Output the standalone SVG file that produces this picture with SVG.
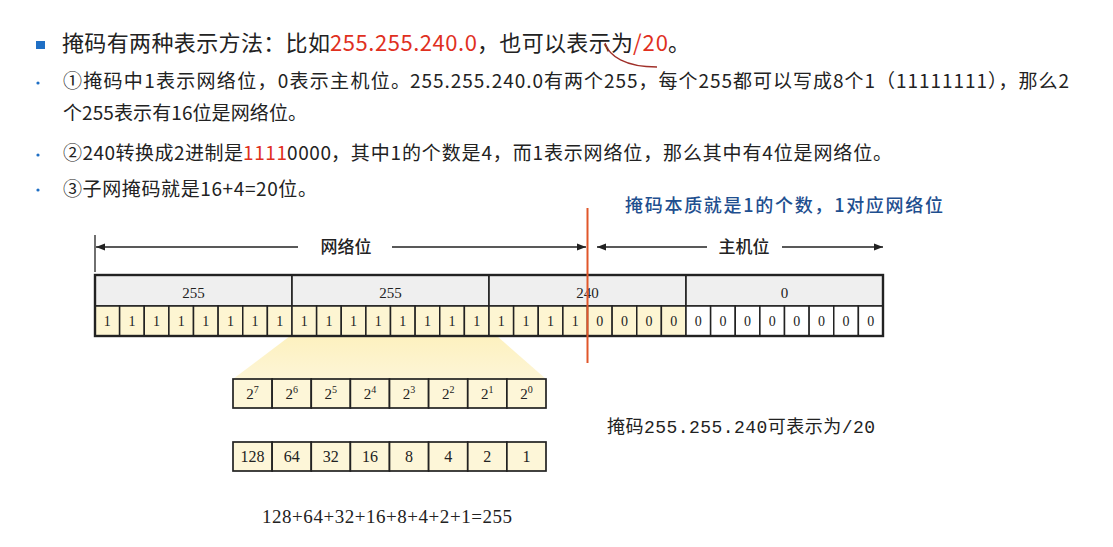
<svg xmlns="http://www.w3.org/2000/svg" width="1113" height="547" viewBox="0 0 1113 547">
<style>
.t{font-family:"Noto Sans CJK SC","Noto Sans",sans-serif;fill:#222}
.h{font-size:22px}
.b{font-size:19px}
.red{fill:#e0301e}
.blue{fill:#1f4f8f}
.hdr{fill:#efefef;stroke:#222;stroke-width:1.6}
.one{fill:#fdf5d2;stroke:#222;stroke-width:1.5}
.zero{fill:#ffffff;stroke:#222;stroke-width:1.5}
.pw{fill:#fdf6d8;stroke:#222;stroke-width:1.7}
.n{font-family:"Liberation Serif","Noto Sans CJK SC",serif;fill:#222;text-anchor:middle}
.bit{font-size:14px}
.byte{font-size:15px}
.lbl{font-family:"Noto Sans CJK SC",sans-serif;font-size:17px;font-weight:500;fill:#222;text-anchor:middle}
.arr{stroke:#222;stroke-width:1.3;fill:none}
</style>
<defs>
<marker id="ah" markerUnits="userSpaceOnUse" markerWidth="10" markerHeight="8" refX="9" refY="4" orient="auto-start-reverse">
<path d="M0,0.5 L9,4 L0,7.5 z" fill="#222"/>
</marker>
<linearGradient id="yg" x1="0" y1="0" x2="0" y2="1">
<stop offset="0" stop-color="#fdf1bf"/>
<stop offset="1" stop-color="#fdf5d6"/>
</linearGradient>
</defs>
<rect width="1113" height="547" fill="#ffffff"/>

<g id="text-block">
<rect x="36" y="41" width="9" height="8" fill="#1f6fc5"/>
<text class="t h" x="62" y="51" textLength="268" lengthAdjust="spacing">掩码有两种表示方法：比如</text>
<text class="t h red" x="330" y="51" textLength="147" lengthAdjust="spacing">255.255.240.0</text>
<text class="t h" x="477" y="51" textLength="156" lengthAdjust="spacing">，也可以表示为</text>
<text class="t h red" x="633" y="51" textLength="35" lengthAdjust="spacing">/20</text>
<text class="t h" x="668" y="51">。</text>
<path d="M605,43 C609,56 625,67 657,67" fill="none" stroke="#a0302a" stroke-width="1.3"/>

<circle cx="38" cy="83" r="1.6" fill="#1f6fc5"/>
<text class="t b" x="63" y="88" textLength="347" lengthAdjust="spacing">①掩码中1表示网络位，0表示主机位。</text>
<text class="t b" x="410" y="88" textLength="659" lengthAdjust="spacing">255.255.240.0有两个255，每个255都可以写成8个1（11111111），那么2</text>
<text class="t b" x="63" y="120" textLength="244" lengthAdjust="spacing">个255表示有16位是网络位。</text>

<circle cx="38" cy="155" r="1.6" fill="#1f6fc5"/>
<text class="t b" x="63" y="160" textLength="180" lengthAdjust="spacing">②240转换成2进制是</text>
<text class="t b red" x="243" y="160" textLength="44" lengthAdjust="spacing">1111</text>
<text class="t b" x="287" y="160" textLength="44" lengthAdjust="spacing">0000</text>
<text class="t b" x="331" y="160" textLength="561" lengthAdjust="spacing">，其中1的个数是4，而1表示网络位，那么其中有4位是网络位。</text>

<circle cx="38" cy="190" r="1.6" fill="#1f6fc5"/>
<text class="t b" x="63" y="196" textLength="254" lengthAdjust="spacing">③子网掩码就是16+4=20位。</text>

<text class="t blue" x="625" y="212" font-size="18" font-weight="500" textLength="318" lengthAdjust="spacing">掩码本质就是1的个数，1对应网络位</text>
</g>

<polygon id="zoom-highlight" points="290,336 497,336 546,379 233,379" fill="url(#yg)"/>

<g id="connectors">
<line class="arr" x1="95" y1="235" x2="95" y2="272" stroke-width="2"/>
<line class="arr" x1="96" y1="247" x2="298" y2="247" marker-start="url(#ah)"/>
<line class="arr" x1="392" y1="247" x2="586" y2="247" marker-end="url(#ah)"/>
<line class="arr" x1="597" y1="247" x2="707" y2="247" marker-start="url(#ah)"/>
<line class="arr" x1="782" y1="247" x2="883" y2="247" marker-end="url(#ah)"/>
</g>
<g id="range-labels">
<text class="lbl" x="346" y="253">网络位</text>
<text class="lbl" x="744" y="253">主机位</text>
</g>

<g id="byte1">
<rect class="hdr" x="95" y="275" width="197" height="31"/>
<text class="n byte" x="193.5" y="298">255</text>
<rect class="one" x="95" y="306" width="24.625" height="30"/><text class="n bit" x="107.3" y="326">1</text>
<rect class="one" x="119.625" y="306" width="24.625" height="30"/><text class="n bit" x="131.9" y="326">1</text>
<rect class="one" x="144.25" y="306" width="24.625" height="30"/><text class="n bit" x="156.6" y="326">1</text>
<rect class="one" x="168.875" y="306" width="24.625" height="30"/><text class="n bit" x="181.2" y="326">1</text>
<rect class="one" x="193.5" y="306" width="24.625" height="30"/><text class="n bit" x="205.8" y="326">1</text>
<rect class="one" x="218.125" y="306" width="24.625" height="30"/><text class="n bit" x="230.4" y="326">1</text>
<rect class="one" x="242.75" y="306" width="24.625" height="30"/><text class="n bit" x="255.1" y="326">1</text>
<rect class="one" x="267.375" y="306" width="24.625" height="30"/><text class="n bit" x="279.7" y="326">1</text>
</g>
<g id="byte2">
<rect class="hdr" x="292" y="275" width="197" height="31"/>
<text class="n byte" x="390.5" y="298">255</text>
<rect class="one" x="292" y="306" width="24.625" height="30"/><text class="n bit" x="304.3" y="326">1</text>
<rect class="one" x="316.625" y="306" width="24.625" height="30"/><text class="n bit" x="328.9" y="326">1</text>
<rect class="one" x="341.25" y="306" width="24.625" height="30"/><text class="n bit" x="353.6" y="326">1</text>
<rect class="one" x="365.875" y="306" width="24.625" height="30"/><text class="n bit" x="378.2" y="326">1</text>
<rect class="one" x="390.5" y="306" width="24.625" height="30"/><text class="n bit" x="402.8" y="326">1</text>
<rect class="one" x="415.125" y="306" width="24.625" height="30"/><text class="n bit" x="427.4" y="326">1</text>
<rect class="one" x="439.75" y="306" width="24.625" height="30"/><text class="n bit" x="452.1" y="326">1</text>
<rect class="one" x="464.375" y="306" width="24.625" height="30"/><text class="n bit" x="476.7" y="326">1</text>
</g>
<g id="byte3">
<rect class="hdr" x="489" y="275" width="197" height="31"/>
<text class="n byte" x="587.5" y="298">240</text>
<rect class="one" x="489" y="306" width="24.625" height="30"/><text class="n bit" x="501.3" y="326">1</text>
<rect class="one" x="513.625" y="306" width="24.625" height="30"/><text class="n bit" x="525.9" y="326">1</text>
<rect class="one" x="538.25" y="306" width="24.625" height="30"/><text class="n bit" x="550.6" y="326">1</text>
<rect class="one" x="562.875" y="306" width="24.625" height="30"/><text class="n bit" x="575.2" y="326">1</text>
<rect class="one" x="587.5" y="306" width="24.625" height="30"/><text class="n bit" x="599.8" y="326">0</text>
<rect class="one" x="612.125" y="306" width="24.625" height="30"/><text class="n bit" x="624.4" y="326">0</text>
<rect class="one" x="636.75" y="306" width="24.625" height="30"/><text class="n bit" x="649.1" y="326">0</text>
<rect class="one" x="661.375" y="306" width="24.625" height="30"/><text class="n bit" x="673.7" y="326">0</text>
</g>
<g id="byte4">
<rect class="hdr" x="686" y="275" width="197" height="31"/>
<text class="n byte" x="784.5" y="298">0</text>
<rect class="zero" x="686" y="306" width="24.625" height="30"/><text class="n bit" x="698.3" y="326">0</text>
<rect class="zero" x="710.625" y="306" width="24.625" height="30"/><text class="n bit" x="722.9" y="326">0</text>
<rect class="zero" x="735.25" y="306" width="24.625" height="30"/><text class="n bit" x="747.6" y="326">0</text>
<rect class="zero" x="759.875" y="306" width="24.625" height="30"/><text class="n bit" x="772.2" y="326">0</text>
<rect class="zero" x="784.5" y="306" width="24.625" height="30"/><text class="n bit" x="796.8" y="326">0</text>
<rect class="zero" x="809.125" y="306" width="24.625" height="30"/><text class="n bit" x="821.4" y="326">0</text>
<rect class="zero" x="833.75" y="306" width="24.625" height="30"/><text class="n bit" x="846.1" y="326">0</text>
<rect class="zero" x="858.375" y="306" width="24.625" height="30"/><text class="n bit" x="870.7" y="326">0</text>
</g>
<rect x="95" y="275" width="788" height="61" fill="none" stroke="#222" stroke-width="2.4"/>

<line id="split-line" x1="587.5" y1="208" x2="587.5" y2="363" stroke="#e0562a" stroke-width="2"/>

<g id="powers">
<rect class="pw" x="233" y="379" width="39.125" height="29"/><text class="n byte" x="252.6" y="399">2<tspan font-size="10" dy="-6">7</tspan></text>
<rect class="pw" x="272.125" y="379" width="39.125" height="29"/><text class="n byte" x="291.7" y="399">2<tspan font-size="10" dy="-6">6</tspan></text>
<rect class="pw" x="311.25" y="379" width="39.125" height="29"/><text class="n byte" x="330.8" y="399">2<tspan font-size="10" dy="-6">5</tspan></text>
<rect class="pw" x="350.375" y="379" width="39.125" height="29"/><text class="n byte" x="369.9" y="399">2<tspan font-size="10" dy="-6">4</tspan></text>
<rect class="pw" x="389.5" y="379" width="39.125" height="29"/><text class="n byte" x="409.1" y="399">2<tspan font-size="10" dy="-6">3</tspan></text>
<rect class="pw" x="428.625" y="379" width="39.125" height="29"/><text class="n byte" x="448.2" y="399">2<tspan font-size="10" dy="-6">2</tspan></text>
<rect class="pw" x="467.75" y="379" width="39.125" height="29"/><text class="n byte" x="487.3" y="399">2<tspan font-size="10" dy="-6">1</tspan></text>
<rect class="pw" x="506.875" y="379" width="39.125" height="29"/><text class="n byte" x="526.4" y="399">2<tspan font-size="10" dy="-6">0</tspan></text>
</g>
<g id="values">
<rect class="pw" x="233" y="442" width="39.125" height="29"/><text class="n" font-size="16" x="252.6" y="462">128</text>
<rect class="pw" x="272.125" y="442" width="39.125" height="29"/><text class="n" font-size="16" x="291.7" y="462">64</text>
<rect class="pw" x="311.25" y="442" width="39.125" height="29"/><text class="n" font-size="16" x="330.8" y="462">32</text>
<rect class="pw" x="350.375" y="442" width="39.125" height="29"/><text class="n" font-size="16" x="369.9" y="462">16</text>
<rect class="pw" x="389.5" y="442" width="39.125" height="29"/><text class="n" font-size="16" x="409.1" y="462">8</text>
<rect class="pw" x="428.625" y="442" width="39.125" height="29"/><text class="n" font-size="16" x="448.2" y="462">4</text>
<rect class="pw" x="467.75" y="442" width="39.125" height="29"/><text class="n" font-size="16" x="487.3" y="462">2</text>
<rect class="pw" x="506.875" y="442" width="39.125" height="29"/><text class="n" font-size="16" x="526.4" y="462">1</text>
</g>

<g id="notes">
<text x="262" y="523" font-family="Liberation Serif, serif" font-size="19" fill="#222" textLength="250" lengthAdjust="spacing">128+64+32+16+8+4+2+1=255</text>
<text x="607" y="433" font-family="Liberation Mono, Noto Sans CJK SC, monospace" font-size="18" fill="#222" textLength="268" lengthAdjust="spacing">掩码255.255.240可表示为/20</text>
</g>
</svg>
